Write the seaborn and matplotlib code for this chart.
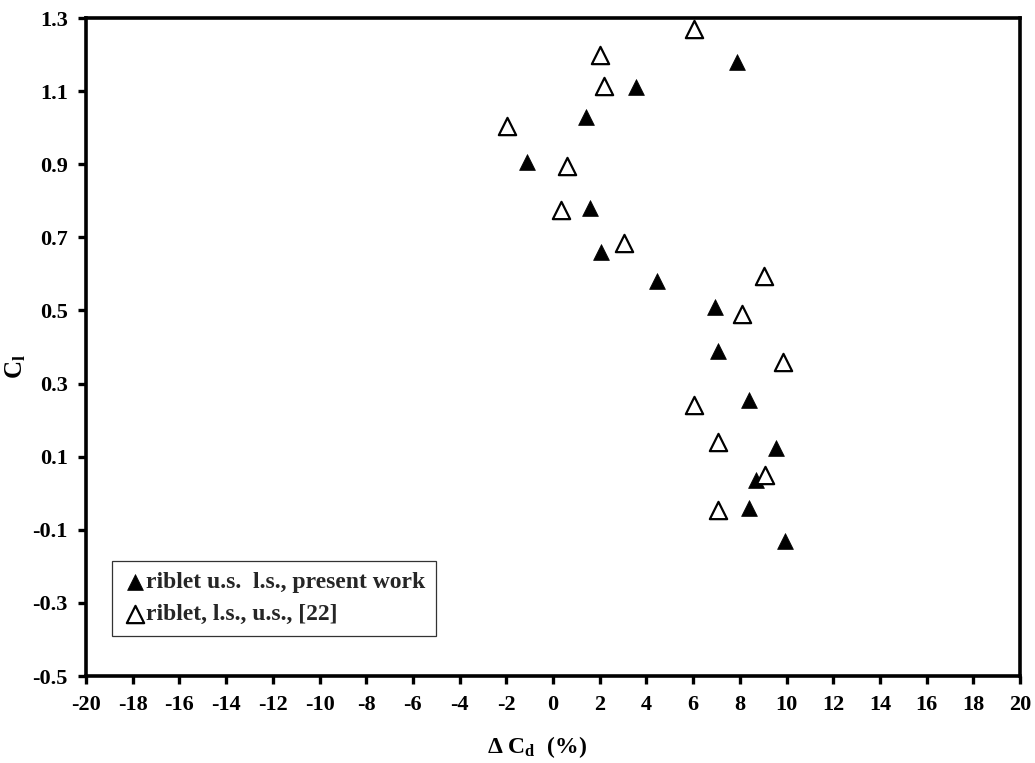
import matplotlib
matplotlib.use("Agg")
import matplotlib.pyplot as plt
import seaborn as sns
import pandas as pd

# Data
present_dcd = [7.9, 3.55, 1.4, -1.1, 1.6, 2.05, 4.45, 6.95, 7.05, 8.4, 9.55, 8.7, 8.4, 9.95]
present_cl = [1.18, 1.11, 1.03, 0.905, 0.78, 0.66, 0.58, 0.51, 0.39, 0.255, 0.125, 0.035, -0.04, -0.13]

ref_dcd = [6.05, 2.0, 2.2, -1.95, 0.6, 0.35, 3.05, 9.05, 8.1, 9.85, 6.05, 7.05, 9.1, 7.05]
ref_cl = [1.27, 1.20, 1.115, 1.005, 0.895, 0.775, 0.685, 0.595, 0.49, 0.36, 0.24, 0.14, 0.05, -0.045]

labels = ["riblet u.s.  l.s., present work", "riblet, l.s., u.s., [22]"]
xticks = list(range(-20, 21, 2))
yticks = [-0.5, -0.3, -0.1, 0.1, 0.3, 0.5, 0.7, 0.9, 1.1, 1.3]

sns.set_theme(style="white")
plt.rcParams["font.family"] = ["Liberation Serif", "DejaVu Serif"]
plt.rcParams["font.weight"] = "bold"
plt.rcParams["axes.unicode_minus"] = False
plt.rcParams["mathtext.fontset"] = "custom"
plt.rcParams["mathtext.rm"] = "Liberation Serif:bold"
plt.rcParams["mathtext.it"] = "Liberation Serif:italic:bold"
plt.rcParams["mathtext.bf"] = "Liberation Serif:bold"

fig = plt.figure(figsize=(10.35, 7.63), dpi=100)
ax = fig.add_axes([86 / 1035, 1 - 676 / 763, (1020 - 86) / 1035, (676 - 18) / 763])

df1 = pd.DataFrame({"x": present_dcd, "y": present_cl})
df2 = pd.DataFrame({"x": ref_dcd, "y": ref_cl})

sns.scatterplot(data=df1, x="x", y="y", marker="^", s=130, color="black",
                edgecolor="black", linewidth=0.5, ax=ax, label=labels[0], zorder=3)
sns.scatterplot(data=df2, x="x", y="y", marker="^", s=155, facecolor="white",
                edgecolor="black", linewidth=1.6, ax=ax, label=labels[1], zorder=3)

ax.set_xlim(-20, 20)
ax.set_ylim(-0.5, 1.3)
ax.set_xticks(xticks)
ax.set_xticklabels([str(t) for t in xticks])
ax.set_yticks(yticks)
ax.set_yticklabels([f"{t:.1f}" for t in yticks])

for sp in ax.spines.values():
    sp.set_visible(True)
    sp.set_color("black")
    sp.set_linewidth(2.6)

ax.tick_params(axis="both", which="major", direction="out", length=6, width=2.4,
               colors="black", labelsize=16, bottom=True, left=True)
ax.tick_params(axis="x", pad=8)
ax.tick_params(axis="y", pad=7)
for lab in ax.get_xticklabels() + ax.get_yticklabels():
    lab.set_fontweight("bold")

ax.set_xlabel(r"Δ C$_\mathrm{d}$  (%)", fontsize=17, fontweight="bold", color="black")
ax.set_ylabel(r"C$_\mathrm{l}$", fontsize=18, fontweight="bold", color="black")
ax.xaxis.set_label_coords(0.483, -0.088)
ax.yaxis.set_label_coords(-0.062, 0.47)

leg = ax.legend(loc="upper left", bbox_to_anchor=(0.028, 0.175), borderaxespad=0,
                frameon=True, fancybox=False, handletextpad=0.0, handlelength=1.0,
                borderpad=0.45, labelspacing=0.45, prop={"size": 17, "weight": "bold"})
leg.get_frame().set_edgecolor("black")
leg.get_frame().set_linewidth(0.9)

fig.savefig("out.png", dpi=100, facecolor="white")
